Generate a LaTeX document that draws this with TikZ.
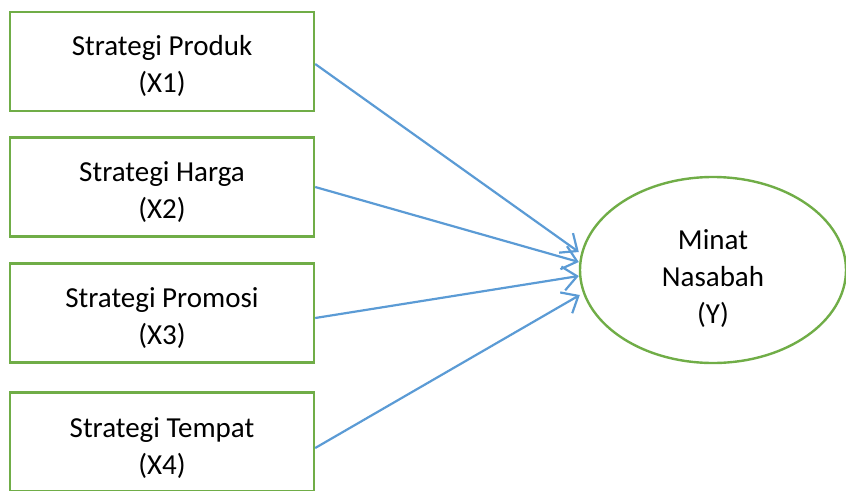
\documentclass[tikz,border=0pt]{standalone}
\usepackage{fontspec}
\setmainfont{Carlito}
\usetikzlibrary{arrows.meta,shapes.geometric}
\definecolor{boxgreen}{RGB}{112,173,71}
\definecolor{arrblue}{RGB}{91,155,213}
\begin{document}
\begin{tikzpicture}[x=1pt,y=-1pt,
  varbox/.style={draw=boxgreen,line width=2.4pt,minimum width=304pt,minimum height=99pt,inner sep=0pt},
  lbl/.style={align=center,inner sep=0pt,font=\fontsize{29}{37}\selectfont},
  depell/.style={draw=boxgreen,line width=2.4pt,ellipse,minimum width=266pt,minimum height=186pt,inner sep=0pt},
  link/.style={draw=arrblue,line width=2.2pt,-{Straight Barb[length=14pt,width=24pt]}}]
\useasboundingbox (0,0) rectangle (846,490);
\node[varbox] (x1) at (162,61.5) {};
\node[varbox] (x2) at (162,187) {};
\node[varbox] (x3) at (162,313) {};
\node[varbox] (x4) at (162,442) {};
\node[lbl] (t1) at (162,66) {Strategi Produk\\(X1)};
\node[lbl] (t2) at (162,192) {Strategi Harga\\(X2)};
\node[lbl] (t3) at (162,318) {Strategi Promosi\\(X3)};
\node[lbl] (t4) at (162,448) {Strategi Tempat\\(X4)};
\node[depell] (y) at (713,270) {};
\node[lbl] (ty) at (713,279) {Minat\\Nasabah\\(Y)};
\draw[link] ([yshift=-2.5pt]x1.east) -- ([yshift=18pt]y.west);
\draw[link] (x2.east) -- ([yshift=8pt]y.west);
\draw[link] ([yshift=-5pt]x3.east) -- ([yshift=-6pt]y.west);
\draw[link] ([yshift=-6pt]x4.east) -- ([xshift=1pt,yshift=-25pt]y.west);
\end{tikzpicture}
\end{document}
